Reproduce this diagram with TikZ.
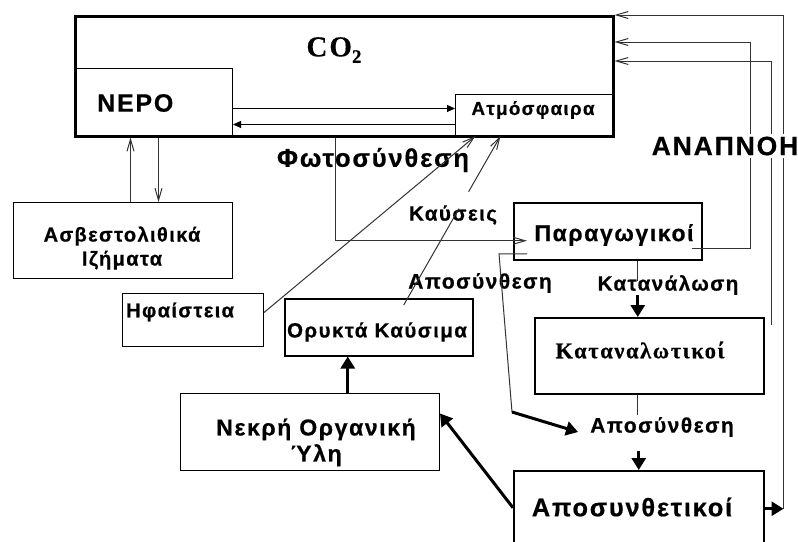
\documentclass[tikz,border=0pt]{standalone}
\usepackage{fontspec}
\setmainfont{Liberation Sans}
\newfontfamily\grsans[LetterSpace=7, BoldFeatures={FakeBold=0.6}]{Liberation Sans}
\newfontfamily\grserif[LetterSpace=7, BoldFeatures={FakeBold=0.4}]{Liberation Serif}
\usetikzlibrary{arrows.meta,calc}

\begin{document}
\begin{tikzpicture}[x=1pt,y=-1pt,
  box/.style={draw=black, line width=1.5pt, inner sep=0pt, anchor=north west},
  thinbox/.style={box, line width=1pt},
  txt/.style={inner sep=0pt, align=center},
  fs/.style={font=\grsans\bfseries\fontsize{#1}{#1}\selectfont},
  thin/.style={draw=black!80, line width=1pt},
  open/.style={thin, -{Straight Barb[length=12pt,width=7pt]}},
  heavy/.style={line width=3pt, -{Triangle[length=12pt,width=14pt]}},
  small/.style={line width=1pt, -{Triangle[length=8pt,width=7pt]}},
]
\clip (0,0) rectangle (798,541);
\fill[white] (0,0) rectangle (798,541);

% the CO2 reservoir with its two compartments
\node[thinbox, minimum width=158pt, minimum height=67pt] (nero) at (74,68) {};
\node[thinbox, minimum width=157pt, minimum height=41pt] (atm) at (455,94) {};
\node[box, line width=2.5pt, minimum width=538pt, minimum height=120pt] (co2) at (74,15) {};
\node[txt, font=\grserif\bfseries\fontsize{29}{29}\selectfont] (co2t) at (334,50)
  {CO\raisebox{-0.22em}{\fontsize{19}{19}\selectfont 2}};
\node[txt, fs=25, anchor=west] (nerot) at (97,103) {ΝΕΡΟ};
\node[txt, fs=18.8] (atmt) at (533,110) {Ατμόσφαιρα};

% other boxes
\node[thinbox, minimum width=219pt, minimum height=76pt] (asb) at (13,202) {};
\node[txt, fs=20, text depth=0pt] (asbt) at (122,246) {Ασβεστολιθικά\\[4pt]Ιζήματα};
\node[thinbox, minimum width=141pt, minimum height=53pt] (hfa) at (122,293) {};
\node[txt, fs=20, anchor=west] (hfat) at (126,312) {Ηφαίστεια};
\node[box, minimum width=188pt, minimum height=57pt] (ory) at (284,298) {};
\node[txt, fs=20.5] (oryt) at (377,332) {Ορυκτά Καύσιμα};
\node[thinbox, minimum width=259pt, minimum height=77pt] (nek) at (180,393) {};
\node[txt, fs=23, text depth=0pt] (nekt) at (316,440) {Νεκρή Οργανική\\[3pt]Ύλη};
\node[box, minimum width=188pt, minimum height=57pt] (par) at (513,202) {};
\node[txt, fs=23] (part) at (614,235) {Παραγωγικοί};
\node[box, minimum width=229pt, minimum height=76pt] (kat) at (534,317) {};
\node[txt, font=\grserif\bfseries\fontsize{22.5}{22.5}\selectfont] (katt) at (640,350) {Καταναλωτικοί};
\node[box, minimum width=250pt, minimum height=80pt] (apo) at (513,470) {};
\node[txt, fs=25.4] (apot) at (632,507) {Αποσυνθετικοί};

% process labels
\node[txt, fs=25.6] (phot) at (373,160) {Φωτοσύνθεση};
\node[txt, fs=20.6] (kaus) at (453,215) {Καύσεις};
\node[txt, fs=21] (dec1) at (480,283) {Αποσύνθεση};
\node[txt, fs=20.6] (cons) at (668,285) {Κατανάλωση};
\node[txt, fs=21] (dec2) at (662,427) {Αποσύνθεση};

% water <-> atmosphere exchange
\draw[small] ([yshift=-6.5pt]nero.east) -- ([yshift=6.5pt]atm.west);
\draw[small] ([yshift=-9.5pt]atm.west) -- ([yshift=-22.5pt]nero.east);

% sediments <-> water
\draw[open] ([xshift=7.5pt]asb.north) -- ([xshift=7.5pt]asb.north |- co2.south);
\draw[open] ([xshift=35.5pt]asb.north |- co2.south) -- ([xshift=35.5pt]asb.north);

% volcanoes and combustion release CO2
\draw[open] ([yshift=7.5pt]hfa.east) -- ([xshift=-58.5pt]atm.south);
\path ([xshift=25pt,yshift=-7pt]ory.north) coordinate (fuel-a)
      ([xshift=-33.5pt]atm.south) coordinate (fuel-b);
\draw[thin] (fuel-a) -- ($(fuel-a)!0.57!(fuel-b)$);
\draw[open] ($(fuel-a)!0.67!(fuel-b)$) -- (fuel-b);

% photosynthesis
\draw[open] ([xshift=-9pt]co2.south) |- ([xshift=14pt,yshift=-9.5pt]par.west);

% producers -> decomposition
\coordinate (dec-bend) at (512,412);
\draw[thin] ([xshift=14pt,yshift=-22.5pt]par.west) -- ++(-28,0) -- (dec-bend);
\draw[heavy] (dec-bend) -- ([xshift=-12pt,yshift=-5pt]dec2.west);

% consumption
\draw[thin] ([xshift=30pt]par.south) -- ++(0,20);
\draw[heavy] ([xshift=-11.5pt,yshift=22pt]kat.north) -- ([xshift=-11.5pt]kat.north);
\draw[thin] ([xshift=-11.5pt]kat.south) -- ++(0,20);
\draw[heavy] ([yshift=19pt]apo.north) -- (apo.north);

% dead matter
\draw[heavy] ([xshift=-31pt]ory.south |- nek.north) -- ([xshift=-31pt]ory.south);
\draw[heavy] ([yshift=3pt]apo.west) -- ([yshift=18.5pt]nek.east);

% respiration
\draw[heavy] ([yshift=2pt]apo.east) -- ++(19,0) coordinate (r-dec);
\draw[open] (r-dec) |- (co2.north east);
\draw[open] ([xshift=-11pt,yshift=-17.5pt]par.east) -- ++(59,0) |- ([yshift=-27pt]co2.north east);
\coordinate (r-con) at ([xshift=7pt,yshift=-8pt]kat.north east);
\draw[open] (r-con) |- ([yshift=-46pt]co2.north east);
\node[txt, fs=26.5, fill=white, inner sep=3pt] (resp) at (725,146) {ΑΝΑΠΝΟΗ};
\end{tikzpicture}
\end{document}
